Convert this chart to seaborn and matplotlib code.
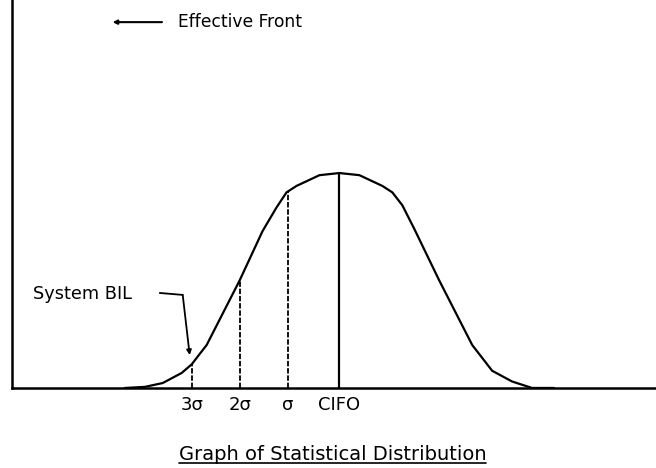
import numpy as np
import matplotlib
matplotlib.use("Agg")
import matplotlib.pyplot as plt
from matplotlib.lines import Line2D
import seaborn as sns
import pandas as pd

# curve: x in sigma units (CIFO = 0), y in % of peak
curve_x = [-4.3, -3.9, -3.54, -3.16, -2.96, -2.66, -2.0, -1.54, -1.26, -1.06, -0.86, -0.4, 0.0,
           0.4, 0.86, 1.06, 1.26, 1.5, 2.0, 2.66, 3.06, 3.46, 3.86, 4.3]
curve_y = [0, 0.5, 2.3, 7, 11, 20, 50, 73, 84, 91, 94, 99, 100,
           99, 94, 91, 85, 74, 50, 20, 8, 3, 0, 0]

# vertical markers
mark_x = [-2.96, -2.0, -1.04, 0.0]
mark_h = [11, 50, 91, 100]
mark_style = ["dash", "dash", "dash", "solid"]
mark_labels = ["3\u03c3", "2\u03c3", "\u03c3", "CIFO"]

title = "Graph of Statistical Distribution"

sns.set_style("white")
plt.rcParams["font.family"] = ["DejaVu Sans"]
plt.rcParams["text.color"] = "black"
plt.rcParams["xtick.color"] = "black"

fig = plt.figure(figsize=(6.56, 4.68), dpi=100)
ax = fig.add_axes([0.0183, 0.171, 0.98, 0.829])

df = pd.DataFrame({"x": curve_x, "y": curve_y})
sns.lineplot(data=df, x="x", y="y", ax=ax, color="black", lw=1.6, sort=False)

for x, h, st in zip(mark_x, mark_h, mark_style):
    ls = "-" if st == "solid" else (0, (3, 1))
    ax.plot([x, x], [0, h], color="black", lw=1.3 if st == "dash" else 1.6, ls=ls)

ax.set_xlim(-6.56, 6.32)
ax.set_ylim(0, 180.5)
ax.set_xlabel("")
ax.set_ylabel("")
ax.set_yticks([])
ax.set_xticks(mark_x)
ax.set_xticklabels(mark_labels, fontsize=13)
ax.tick_params(axis="x", length=0, pad=6, labelcolor="black")
for s in ["top", "right"]:
    ax.spines[s].set_visible(False)
for s in ["left", "bottom"]:
    ax.spines[s].set_color("black")
    ax.spines[s].set_linewidth(1.8)

# Effective Front arrow
ax.annotate("", xy=(-4.6, 170.2), xytext=(-3.5, 170.2),
            arrowprops=dict(arrowstyle="-|>", color="black", lw=1.5, mutation_scale=6))
ax.text(-3.24, 170.2, "Effective Front", fontsize=12.3, va="center", ha="left", color="black")

# System BIL arrow
ax.text(-6.14, 43.5, "System BIL", fontsize=12.8, va="center", ha="left", color="black")
ax.plot([-3.6, -3.14], [44.2, 43.3], color="black", lw=1.3)
ax.annotate("", xy=(-3.0, 15.3), xytext=(-3.14, 43.3),
            arrowprops=dict(arrowstyle="-|>", color="black", lw=1.3, mutation_scale=7,
                            shrinkA=0, shrinkB=0))

# underlined caption
t = fig.text(0.507, 1 - 455 / 468, title, fontsize=14, ha="center", va="center", color="black")
fig.canvas.draw()
bb = t.get_window_extent(fig.canvas.get_renderer()).transformed(fig.transFigure.inverted())
fig.add_artist(Line2D([bb.x0, bb.x1], [bb.y0 + 0.004, bb.y0 + 0.004],
                      transform=fig.transFigure, color="black", lw=1.2))

fig.savefig("out.png", dpi=100)
